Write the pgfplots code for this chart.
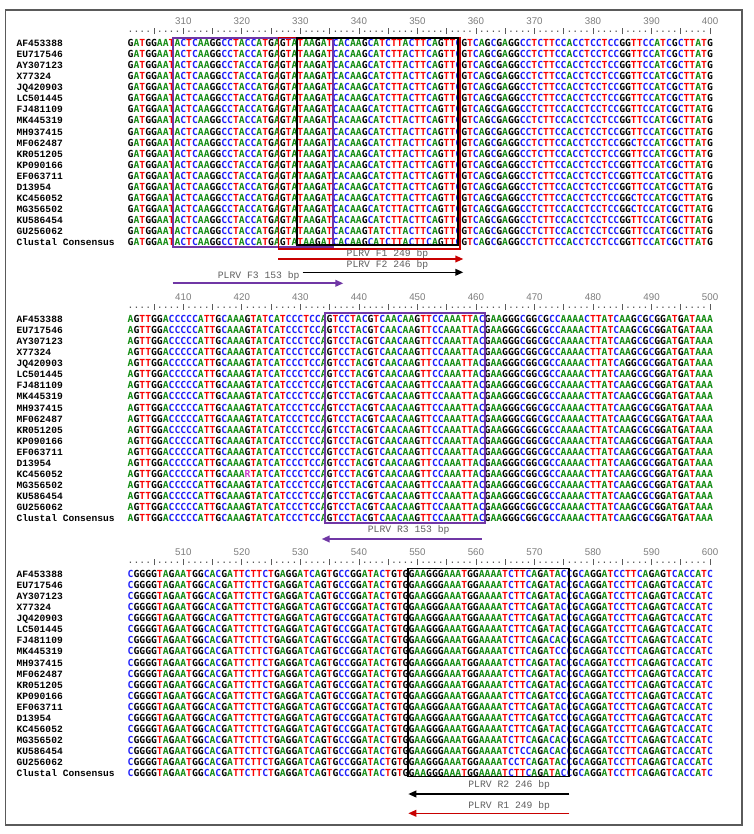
\documentclass[border=0pt]{standalone}
\usepackage{pgfplots}
\pgfplotsset{compat=1.18}
\usetikzlibrary{arrows.meta}
\usepackage{fontspec}
\setmainfont{Liberation Sans}
\newfontfamily\seqf{DejaVu Sans Mono}
\newfontfamily\labf{Liberation Mono}
\definecolor{cA}{RGB}{20,140,20}
\definecolor{cC}{RGB}{30,30,250}
\definecolor{cG}{RGB}{0,0,0}
\definecolor{cT}{RGB}{250,0,0}
\definecolor{cR}{RGB}{200,60,200}
\definecolor{boxP}{RGB}{112,55,165}
\definecolor{boxR}{RGB}{200,0,0}
\definecolor{numc}{RGB}{125,125,125}
\definecolor{rulc}{RGB}{90,90,90}
\definecolor{plc}{RGB}{95,95,95}
\definecolor{frm}{RGB}{90,90,90}
\newcommand\nt[1]{\ifx#1A\textcolor{cA}{A}\else\ifx#1C\textcolor{cC}{C}\else\ifx#1G\textcolor{cG}{G}\else\ifx#1T\textcolor{cT}{T}\else\textcolor{cR}{#1}\fi\fi\fi\fi}
\def\seq#1{\seqloop#1\relax}
\def\seqloop#1{\ifx#1\relax\else\nt{#1}\expandafter\seqloop\fi}
\def\seqx#1{\expandafter\seq\expandafter{#1}}
\newcommand\tk{\makebox[0.602em]{\rule[-1.3pt]{0.5pt}{5pt}}}
\newcommand\rulerunit{....\tk....\tk}
\newcommand\ruler{\rulerunit\rulerunit\rulerunit\rulerunit\rulerunit\rulerunit\rulerunit\rulerunit\rulerunit\rulerunit}
% sequences
\def\Ca{GATGGAATACTCAAGGCCTACCATGAGTATAAGATCACAAGCATCTTACTTCAGTTCGTCAGCGAGGCCTCTTCCACCTCCTCCGGTTCCATCGCTTATG}
\def\Cb{GATGGAATACTCAAGGCCTACCATGAGTATAAGATCACAAGCATCTTACTTCAGTTCGTCAGCGAGGCCTCTTCCACCTCCTCCGGCTCCATCGCTTATG}
\def\Cc{GATGGAATACTCAAGGCCTACCATGAGTATAAGATCACAAGTATCTTACTTCAGTTCGTCAGCGAGGCCTCTTCCACCTCCTCCGGTTCCATCGCTTATG}
\def\Da{AGTTGGACCCCCATTGCAAAGTATCATCCCTCCAGTCCTACGTCAACAAGTTCCAAATTACGAAGGGCGGCGCCAAAACTTATCAAGCGCGGATGATAAA}
\def\Db{AGTTGGACCCCCATTGCAAARTATCATCCCTCCAGTCCTACGTCAACAAGTTCCAAATTACGAAGGGCGGCGCCAAAACTTATCAAGCGCGGATGATAAA}
\def\Dc{AGTTGGACCCCCATTGCAAAGTATCATCCCTCCAGTCCTACGTCAACAAGTTCCAAATTACGAAGGGCGGCGCCAAAACTTATCAGGCGCGGATGATAAA}
\def\Ea{CGGGGTAGAATGGCACGATTCTTCTGAGGATCAGTGCCGGATACTGTGGAAGGGAAATGGAAAATCTTCAGATACCGCAGGATCCTTCAGAGTCACCATC}
\def\Eb{CGGGGTAGAATGGCACGATTCTTCTGAGGATCAGTGCCGGATACTGTGGAAGGGAAATGGAAAATCTTCAGACACCGCAGGATCCTTCAGAGTCACCATC}
\def\Ec{CGGGGTAGAATGGCACGATTCTTCTGAGGATCAGTGCCGGATACTGTGGAAGGGAAATGGAAAATCTTCAGATCCCGCAGGATCCTTCAGAGTCACCATC}
\def\Ed{CGGGGTAGAATGGCACGATTCTTCTGAGGATCAGTGCCGGATACTGTGGAAGGGAAATGGAAAATCTCCAGACACCGCAGGATCCTTCAGAGTCACCATC}
\def\Ee{CGGGGTAGAATGGCACGATTCTTCTGAGGATCAGTGCCGGATACTGTGGAAGGGAAATGGAAAATCCTCAGATACCGCAGGATCCTTCAGAGTCACCATC}
\tikzset{
 sq/.style={anchor=base west, inner sep=0pt, outer sep=0pt, font=\seqf\bfseries\fontsize{7.29}{8}\selectfont},
 lb/.style={anchor=base west, inner sep=0pt, outer sep=0pt, font=\labf\bfseries\fontsize{7.2}{8}\selectfont},
 rl/.style={anchor=base west, inner sep=0pt, outer sep=0pt, font=\seqf\fontsize{7.29}{8}\selectfont, text=rulc},
 num/.style={anchor=base, inner sep=0pt, outer sep=0pt, font=\fontsize{7.3}{8}\selectfont, text=numc},
 pl/.style={anchor=base, inner sep=0pt, outer sep=0pt, font=\labf\fontsize{7.29}{8}\selectfont, text=plc},
}
\newcommand\srow[3]{\node[lb] at (axis cs:16.7,#1) {#2};\node[sq] at (axis cs:127.7,#1) {\seqx{#3}};}
\begin{document}
\begin{tikzpicture}
\begin{axis}[width=564.75pt, height=625.5pt, scale only axis, xmin=0, xmax=753, ymin=0, ymax=834, y dir=reverse, hide axis, clip=false]
\addplot[draw=none, fill=white] coordinates {(0,0) (753,0) (753,834) (0,834)} --cycle;
\addplot[frm, line width=0.9pt] coordinates {(5.3,10) (742,10) (742,825) (5.3,825)} --cycle;
% ---------- block 1 ----------
\node[num] at (axis cs:183.30,24.5) {310};
\node[num] at (axis cs:241.83,24.5) {320};
\node[num] at (axis cs:300.36,24.5) {330};
\node[num] at (axis cs:358.89,24.5) {340};
\node[num] at (axis cs:417.42,24.5) {350};
\node[num] at (axis cs:475.95,24.5) {360};
\node[num] at (axis cs:534.48,24.5) {370};
\node[num] at (axis cs:593.01,24.5) {380};
\node[num] at (axis cs:651.54,24.5) {390};
\node[num] at (axis cs:710.07,24.5) {400};
\node[rl] at (axis cs:127.7,32.5) {\ruler};
\srow{46.50}{AF453388}{\Ca}
\srow{57.57}{EU717546}{\Ca}
\srow{68.64}{AY307123}{\Ca}
\srow{79.71}{X77324}{\Ca}
\srow{90.78}{JQ420903}{\Ca}
\srow{101.85}{LC501445}{\Ca}
\srow{112.92}{FJ481109}{\Ca}
\srow{123.99}{MK445319}{\Ca}
\srow{135.06}{MH937415}{\Ca}
\srow{146.13}{MF062487}{\Cb}
\srow{157.20}{KR051205}{\Ca}
\srow{168.27}{KP090166}{\Ca}
\srow{179.34}{EF063711}{\Ca}
\srow{190.41}{D13954}{\Ca}
\srow{201.48}{KC456052}{\Cb}
\srow{212.55}{MG356502}{\Cb}
\srow{223.62}{KU586454}{\Ca}
\srow{234.69}{GU256062}{\Cc}
\srow{245.76}{Clustal Consensus}{\Ca}
\addplot[boxP, line width=1.5pt] coordinates {(173.3,37.6) (332.7,37.6) (332.7,246.7) (173.3,246.7)} --cycle;
\addplot[boxR, line width=1.2pt] coordinates {(278.3,37.6) (460.0,37.6) (460.0,249.0) (278.3,249.0)} --cycle;
\addplot[black, line width=1.4pt] coordinates {(297.3,37.6) (458.3,37.6) (458.3,245.2) (297.3,245.2)} --cycle;
\node[pl] at (axis cs:387.5,256.8) {PLRV F1 249 bp};
\addplot[boxR, line width=1.2pt, -{Triangle[length=6pt,width=5pt]}] coordinates {(278.3,259.0) (463.3,259.0)};
\node[pl] at (axis cs:387.5,267.1) {PLRV F2 246 bp};
\addplot[black, line width=1.2pt, -{Triangle[length=6pt,width=5pt]}] coordinates {(302.7,272.3) (463.3,272.3)};
\node[pl] at (axis cs:258.7,278.5) {PLRV F3 153 bp};
\addplot[boxP, line width=1.3pt, -{Triangle[length=6pt,width=5pt]}] coordinates {(172.7,283.3) (343.3,283.3)};
% ---------- block 2 ----------
\node[num] at (axis cs:183.30,300.5) {410};
\node[num] at (axis cs:241.83,300.5) {420};
\node[num] at (axis cs:300.36,300.5) {430};
\node[num] at (axis cs:358.89,300.5) {440};
\node[num] at (axis cs:417.42,300.5) {450};
\node[num] at (axis cs:475.95,300.5) {460};
\node[num] at (axis cs:534.48,300.5) {470};
\node[num] at (axis cs:593.01,300.5) {480};
\node[num] at (axis cs:651.54,300.5) {490};
\node[num] at (axis cs:710.07,300.5) {500};
\node[rl] at (axis cs:127.7,308.5) {\ruler};
\srow{322.50}{AF453388}{\Da}
\srow{333.57}{EU717546}{\Da}
\srow{344.64}{AY307123}{\Da}
\srow{355.71}{X77324}{\Da}
\srow{366.78}{JQ420903}{\Dc}
\srow{377.85}{LC501445}{\Da}
\srow{388.92}{FJ481109}{\Da}
\srow{399.99}{MK445319}{\Da}
\srow{411.06}{MH937415}{\Da}
\srow{422.13}{MF062487}{\Da}
\srow{433.20}{KR051205}{\Da}
\srow{444.27}{KP090166}{\Da}
\srow{455.34}{EF063711}{\Da}
\srow{466.41}{D13954}{\Da}
\srow{477.48}{KC456052}{\Db}
\srow{488.55}{MG356502}{\Da}
\srow{499.62}{KU586454}{\Da}
\srow{510.69}{GU256062}{\Da}
\srow{521.76}{Clustal Consensus}{\Da}
\addplot[boxP, line width=1.5pt] coordinates {(325.0,312.5) (485.0,312.5) (485.0,523.3) (325.0,523.3)} --cycle;
\node[pl] at (axis cs:408.7,532.8) {PLRV R3 153 bp};
\addplot[boxP, line width=1.3pt, -{Triangle[length=6pt,width=5pt]}] coordinates {(481.7,539.0) (321.7,539.0)};
% ---------- block 3 ----------
\node[num] at (axis cs:183.30,555.5) {510};
\node[num] at (axis cs:241.83,555.5) {520};
\node[num] at (axis cs:300.36,555.5) {530};
\node[num] at (axis cs:358.89,555.5) {540};
\node[num] at (axis cs:417.42,555.5) {550};
\node[num] at (axis cs:475.95,555.5) {560};
\node[num] at (axis cs:534.48,555.5) {570};
\node[num] at (axis cs:593.01,555.5) {580};
\node[num] at (axis cs:651.54,555.5) {590};
\node[num] at (axis cs:710.07,555.5) {600};
\node[rl] at (axis cs:127.7,563.5) {\ruler};
\srow{577.50}{AF453388}{\Ea}
\srow{588.57}{EU717546}{\Ea}
\srow{599.64}{AY307123}{\Ea}
\srow{610.71}{X77324}{\Ea}
\srow{621.78}{JQ420903}{\Ea}
\srow{632.85}{LC501445}{\Ea}
\srow{643.92}{FJ481109}{\Eb}
\srow{654.99}{MK445319}{\Ec}
\srow{666.06}{MH937415}{\Ea}
\srow{677.13}{MF062487}{\Ea}
\srow{688.20}{KR051205}{\Ea}
\srow{699.27}{KP090166}{\Ec}
\srow{710.34}{EF063711}{\Ea}
\srow{721.41}{D13954}{\Ec}
\srow{732.48}{KC456052}{\Ea}
\srow{743.55}{MG356502}{\Eb}
\srow{754.62}{KU586454}{\Ed}
\srow{765.69}{GU256062}{\Ee}
\srow{776.76}{Clustal Consensus}{\Ea}
\addplot[black, line width=1.4pt] coordinates {(408.3,568.5) (569.3,568.5) (569.3,776.5) (408.3,776.5)} --cycle;
\node[pl] at (axis cs:509.2,787.1) {PLRV R2 246 bp};
\addplot[black, line width=1.2pt, -{Triangle[length=6pt,width=5pt]}] coordinates {(569.3,794.0) (408.3,794.0)};
\node[pl] at (axis cs:509.2,808.8) {PLRV R1 249 bp};
\addplot[boxR, line width=1.2pt, -{Triangle[length=6pt,width=5pt]}] coordinates {(569.3,813.3) (408.3,813.3)};
\end{axis}
\end{tikzpicture}
\end{document}
